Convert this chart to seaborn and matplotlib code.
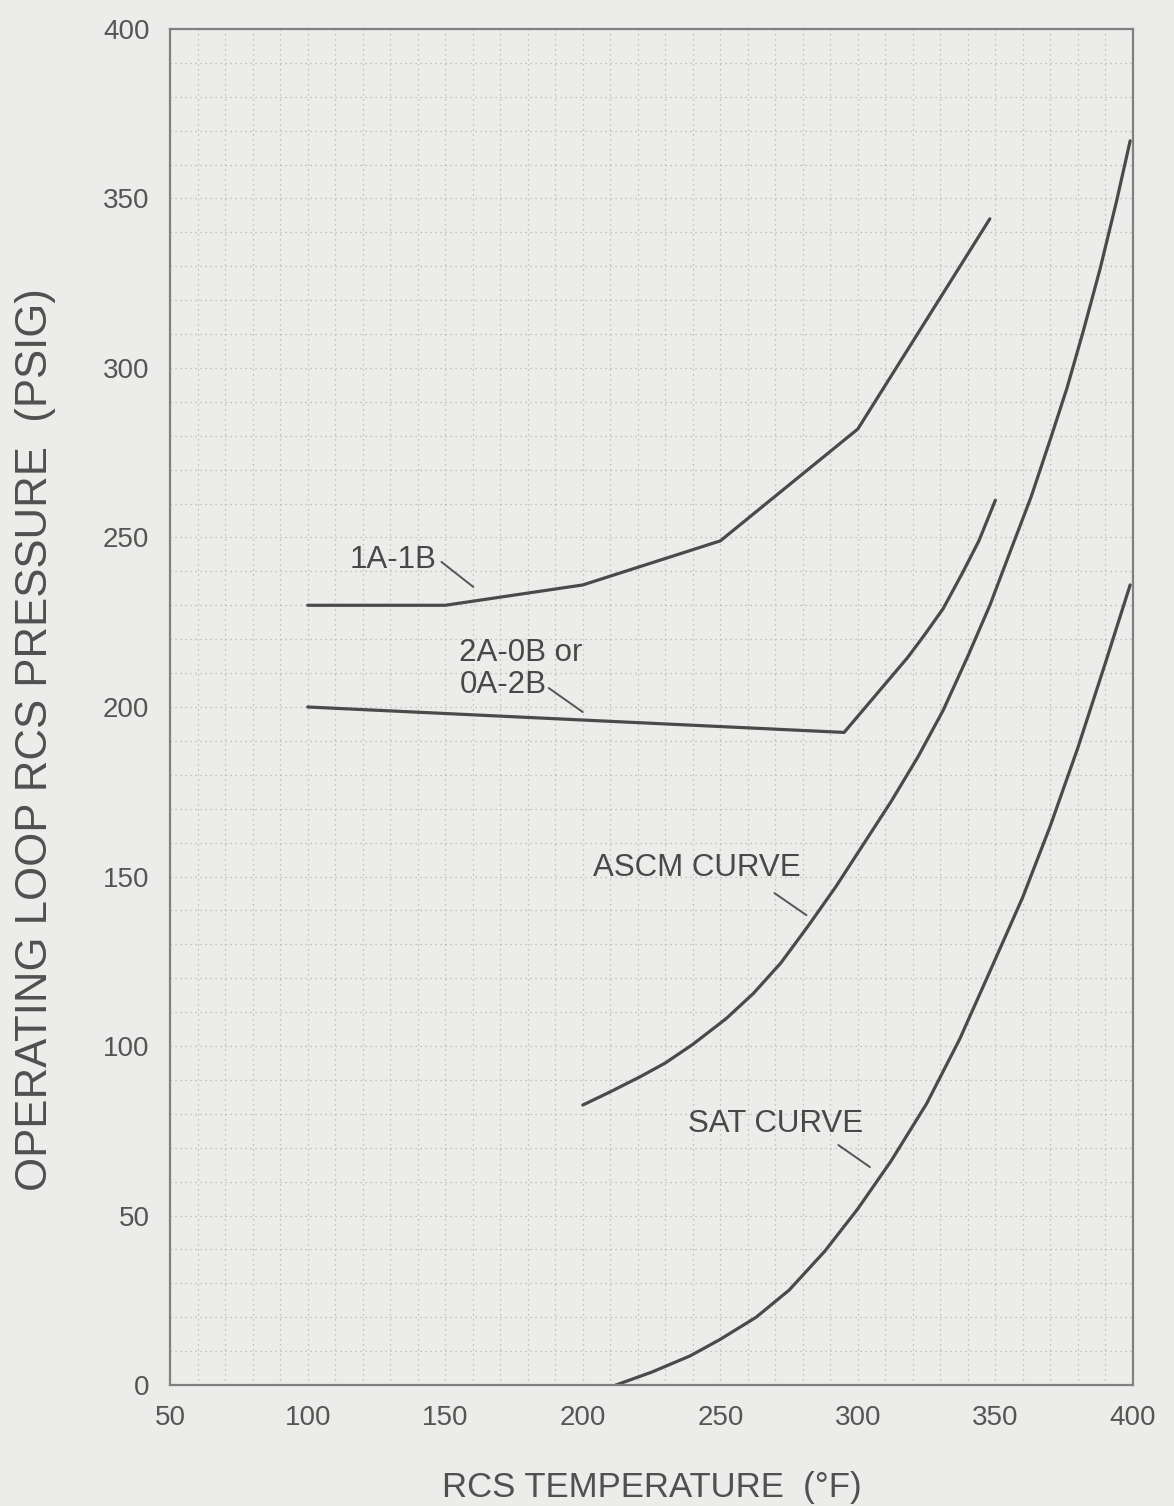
import numpy as np
import pandas as pd
import seaborn as sns
import matplotlib
matplotlib.use("Agg")
import matplotlib.pyplot as plt

# RCS temperature (deg F) vs. operating loop RCS pressure (psig)
temp_1a1b = [100, 150, 200, 250, 300, 348]
pres_1a1b = [230, 230, 236, 249, 282, 344]

temp_2a0b = [100, 295, 318, 324, 331, 338, 344, 350]
pres_2a0b = [200, 192.5, 214.5, 221, 229, 239.5, 249, 261]

temp_ascm = [200, 210, 221, 230, 240, 252, 262, 272, 282, 292, 302, 312, 322,
             331, 340, 348, 355, 363, 370, 376, 382, 388, 394, 399]
pres_ascm = [82.6, 86.5, 91, 95, 100.5, 108, 115.5, 124.5, 135.5, 147, 159.5, 172, 185.5,
             199, 215, 230, 245, 262, 279, 294, 311, 329, 349, 367]

temp_sat = [212, 225, 239, 250, 263, 275, 288, 300, 312, 325, 337, 348,
            360, 370, 380, 390, 399]
pres_sat = [0, 3.8, 8.6, 13.5, 20, 28, 39.5, 52, 66, 83, 102, 122,
            144, 165, 188, 213, 236]

x_ticks = [50, 100, 150, 200, 250, 300, 350, 400]
y_ticks = [0, 50, 100, 150, 200, 250, 300, 350, 400]

curves = pd.concat([
    pd.DataFrame({"temp": temp_1a1b, "pres": pres_1a1b, "curve": "1A-1B"}),
    pd.DataFrame({"temp": temp_2a0b, "pres": pres_2a0b, "curve": "2A-0B"}),
    pd.DataFrame({"temp": temp_ascm, "pres": pres_ascm, "curve": "ASCM"}),
    pd.DataFrame({"temp": temp_sat, "pres": pres_sat, "curve": "SAT"}),
], ignore_index=True)

sns.set_theme(style="white")
plt.rcParams["font.family"] = ["Liberation Sans", "DejaVu Sans"]

bg = "#ececea"
ink = "#4a4a4a"

fig = plt.figure(figsize=(11.74, 15.06), dpi=100, facecolor=bg)
ax = fig.add_axes([0.145, 0.0803, 0.82, 0.9005], facecolor=bg)

# dotted background grid every 10 units
ax.set_xticks(np.arange(50, 401, 10), minor=True)
ax.set_yticks(np.arange(0, 401, 10), minor=True)
ax.grid(which="both", color="#b4b4b2", linestyle=(0, (1, 3)), linewidth=0.9)

for name, grp in curves.groupby("curve", sort=False):
    sns.lineplot(data=grp, x="temp", y="pres", ax=ax, sort=False,
                 estimator=None, color=ink, linewidth=2.3, legend=False)

ax.set_xlim(50, 400)
ax.set_ylim(0, 400)
ax.set_xticks(x_ticks)
ax.set_yticks(y_ticks)
ax.tick_params(which="both", length=0)
ax.tick_params(axis="x", pad=14, labelsize=20, labelcolor="#555555")
ax.tick_params(axis="y", pad=15, labelsize=20, labelcolor="#555555")
for s in ax.spines.values():
    s.set_color("#808080")
    s.set_linewidth(1.6)

ax.set_xlabel("RCS TEMPERATURE  (°F)", fontsize=25, color="#505050")
ax.xaxis.set_label_coords(0.5, -0.063)
ax.set_ylabel("OPERATING LOOP RCS PRESSURE  (PSIG)", fontsize=31.5, color="#505050")
ax.yaxis.set_label_coords(-0.119, 0.476)

label_kw = dict(fontsize=22.5, color="#484848")
leader_kw = dict(arrowstyle="-", color="#555555", linewidth=1.4,
                 shrinkA=0, shrinkB=0)

ax.text(146.8, 243.4, "1A-1B", ha="right", va="center", **label_kw)
ax.annotate("", xy=(160.2, 235.4), xytext=(148.6, 242.8), arrowprops=leader_kw)

ax.text(155.1, 211.2, "2A-0B or\n0A-2B", ha="left", va="center",
        linespacing=1.05, **label_kw)
ax.annotate("", xy=(200, 198.5), xytext=(187.6, 205.6), arrowprops=leader_kw)

ax.text(241.6, 152.5, "ASCM CURVE", ha="center", va="center", **label_kw)
ax.annotate("", xy=(281.3, 138.6), xytext=(269.7, 145.1), arrowprops=leader_kw)

ax.text(270.2, 77.0, "SAT CURVE", ha="center", va="center", **label_kw)
ax.annotate("", xy=(304.4, 64.3), xytext=(292.9, 70.8), arrowprops=leader_kw)

fig.savefig("out.png", dpi=100, facecolor=bg)
